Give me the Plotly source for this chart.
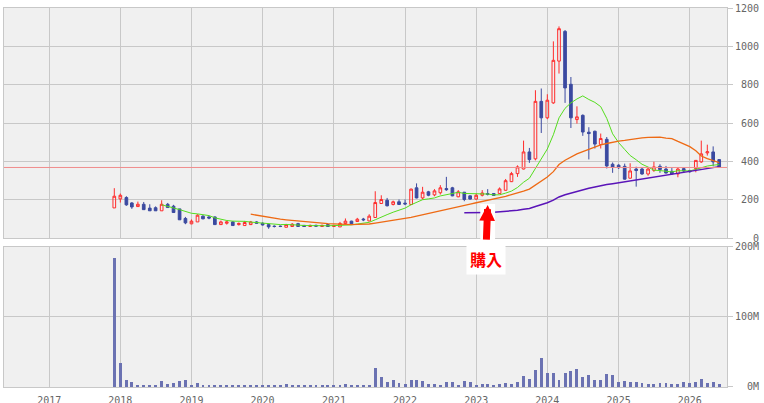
import pandas as pd
import plotly.graph_objects as go

# ---- data (monthly) ----
months = pd.date_range("2017-12-01", periods=103, freq="MS")

opens = [157, 204, 211, 183, 164, 176, 156, 158, 142, 176, 166, 152,
         102, 74, 84, 114, 110, 110, 70, 77, 84, 70, 65, 70,
         84, 77, 70, 62, 62, 56, 60, 75, 66, 60, 66, 60,
         70, 60, 58, 76, 88, 86, 99, 89, 107, 180, 197, 175,
         189, 182, 175, 262, 209, 241, 225, 236, 258, 262, 215, 239,
         220, 203, 223, 232, 232, 232, 249, 294, 336, 360, 449, 413,
         713, 627, 705, 923, 1078, 802, 618, 640, 552, 557, 488, 515,
         385, 380, 374, 312, 360, 360, 334, 353, 374, 360, 348, 334,
         362, 352, 362, 397, 444, 449, 409]
highs = [260, 232, 218, 187, 190, 188, 176, 165, 197, 183, 173, 152,
         110, 97, 124, 119, 114, 113, 91, 91, 89, 81, 89, 89,
         88, 82, 75, 66, 65, 74, 78, 79, 68, 70, 70, 70,
         72, 68, 84, 102, 90, 105, 105, 124, 244, 223, 209, 195,
         201, 201, 258, 285, 267, 246, 255, 276, 319, 267, 250, 239,
         222, 232, 250, 255, 234, 264, 308, 345, 379, 508, 470, 771,
         780, 750, 1026, 1104, 1085, 840, 687, 645, 578, 560, 545, 527,
         394, 385, 388, 390, 372, 366, 366, 398, 385, 376, 365, 369,
         369, 356, 405, 508, 487, 478, 410]
lows = [157, 185, 168, 152, 162, 148, 142, 142, 142, 157, 131, 95,
        72, 72, 84, 98, 98, 68, 68, 70, 65, 65, 65, 68,
        75, 65, 48, 55, 57, 56, 58, 58, 58, 58, 60, 58,
        58, 58, 58, 74, 72, 84, 88, 88, 105, 178, 165, 170,
        172, 172, 172, 207, 201, 218, 218, 227, 246, 218, 213, 192,
        200, 200, 217, 222, 220, 230, 247, 292, 319, 358, 392, 405,
        548, 620, 700, 858, 705, 574, 597, 533, 410, 467, 467, 363,
        340, 360, 305, 310, 268, 330, 325, 345, 340, 337, 334, 317,
        340, 340, 343, 392, 430, 374, 366]
closes = [218, 223, 173, 162, 176, 148, 142, 142, 176, 159, 133, 95,
          79, 88, 119, 100, 104, 70, 84, 84, 65, 76, 81, 84,
          77, 68, 58, 60, 60, 70, 72, 60, 60, 66, 62, 66,
          60, 66, 76, 88, 74, 98, 95, 114, 185, 201, 168, 189,
          175, 178, 255, 209, 239, 223, 246, 262, 252, 220, 241, 201,
          203, 223, 235, 228, 222, 256, 299, 336, 371, 449, 409, 713,
          627, 719, 927, 1092, 783, 627, 632, 553, 545, 490, 519, 376,
          368, 367, 307, 350, 352, 334, 360, 371, 357, 339, 334, 360,
          350, 346, 405, 439, 450, 397, 368]
volumes_m = [184, 34, 9.7, 6.8, 2.5, 2.5, 2.5, 2.5, 8.2, 3.9, 5.3, 8.2,
             9.7, 2.5, 5.3, 2.5, 1.5, 2.5, 2.5, 1.5, 2.5, 1.5, 1.5, 2.5,
             2.5, 2.5, 2.5, 2.5, 1.5, 3.9, 2.5, 1.5, 1.5, 1.5, 1.5, 1.5,
             2.5, 1.5, 2.5, 3.9, 1.5, 2.5, 1.5, 2.5, 27, 14.4, 7.2, 10,
             5.3, 3.9, 10, 10, 8.2, 3.9, 3.9, 2.5, 6.8, 6.8, 2.5, 8.2,
             6.8, 2.5, 3.9, 3.9, 2.5, 3.9, 5.3, 3.9, 6.8, 15.4, 11, 24,
             41, 20, 20, 10, 20, 23, 25.5, 14, 17, 9.7, 9.7, 18.4,
             17, 6.8, 8.2, 6.8, 6.8, 5.3, 3.9, 3.9, 5.3, 5.3, 3.9, 3.9,
             6.8, 5.3, 6.8, 11, 5.3, 6.8, 3.9]

price_ticks = [0, 200, 400, 600, 800, 1000, 1200]
volume_ticks = [0, 100e6, 200e6]
volume_tick_labels = ["0M", "100M", "200M"]
year_tick0 = "2017-01-01"
purchase_date = "2023-03-01"
purchase_label = "購入"
ma_windows = [9, 24, 60]

# ---- derived ----
close_s = pd.Series(closes)
ma_short = close_s.rolling(ma_windows[0]).mean()
ma_mid = close_s.rolling(ma_windows[1]).mean()
ma_long = close_s.rolling(ma_windows[2]).mean()
volumes = [v * 1e6 for v in volumes_m]

RED = "#ff2b2b"
BLUE = "#3b4aa0"
GRID = "#c8c8c8"
BG = "#f0f0f0"
TICKFONT = dict(family="DejaVu Sans Mono", size=10, color="#666666")

def pad(s):
    return s.rjust(4).replace(" ", "\u00a0")

fig = go.Figure()
fig.add_trace(go.Candlestick(
    x=months, open=opens, high=highs, low=lows, close=closes,
    increasing=dict(line=dict(color=RED, width=1), fillcolor="rgba(0,0,0,0)"),
    decreasing=dict(line=dict(color=BLUE, width=1), fillcolor=BLUE),
    whiskerwidth=0, showlegend=False, hoverinfo="skip",
    xaxis="x", yaxis="y"))
fig.add_trace(go.Scatter(x=months, y=ma_short, mode="lines",
                         line=dict(color="#55dd1e", width=1), showlegend=False,
                         xaxis="x", yaxis="y"))
fig.add_trace(go.Scatter(x=months, y=ma_mid, mode="lines",
                         line=dict(color="#ee6a14", width=1.3), showlegend=False,
                         xaxis="x", yaxis="y"))
fig.add_trace(go.Scatter(x=months, y=ma_long, mode="lines",
                         line=dict(color="#5a14b8", width=1.5), showlegend=False,
                         xaxis="x", yaxis="y"))
fig.add_trace(go.Bar(x=months, y=volumes, marker=dict(color="#6b72b2", line=dict(width=0)),
                     width=15 * 86400000, showlegend=False, xaxis="x2", yaxis="y2"))

# current price line
fig.add_shape(type="line", xref="paper", x0=0, x1=1, yref="y",
              y0=closes[-1], y1=closes[-1], line=dict(color="#f08c8c", width=1), layer="above")

# white backdrop behind the purchase arrow
pd_ts = pd.Timestamp(purchase_date)
fig.add_shape(type="rect", xref="x", yref="paper",
              x0=pd_ts - pd.Timedelta(days=38), x1=pd_ts + pd.Timedelta(days=38),
              y0=0.375, y1=0.483, fillcolor="white", line=dict(width=0), layer="above")

fig.add_annotation(x=purchase_date, y=172, xref="x", yref="y",
                   text="<b>" + purchase_label + "</b>", showarrow=True,
                   ax=-2, ay=54, arrowcolor="#ff0000", arrowwidth=7, arrowsize=0.45,
                   arrowhead=2, standoff=0, startstandoff=4,
                   font=dict(family="Noto Sans CJK JP", size=16, color="#ff0000"),
                   bgcolor="white", borderpad=3)

xcommon = dict(type="date", range=["2016-05-14", "2026-07-11"], dtick="M12", tick0=year_tick0,
               showgrid=True, gridcolor=GRID, gridwidth=1, showline=True, linecolor=GRID,
               mirror=True, zeroline=False, fixedrange=True, automargin=False)

fig.update_layout(
    width=764, height=403,
    margin=dict(l=4, r=37, t=8, b=16, autoexpand=False),
    paper_bgcolor="white", plot_bgcolor=BG,
    showlegend=False,
    xaxis=dict(**xcommon, anchor="y", showticklabels=False, rangeslider=dict(visible=False)),
    xaxis2=dict(**xcommon, anchor="y2", matches="x", tickformat="%Y", tickfont=TICKFONT,
                ticks="", ticklabelstandoff=4),
    yaxis=dict(domain=[0.3931, 1], range=[0, 1200], side="right", anchor="x",
               tickvals=price_ticks, ticktext=[pad(str(v)) for v in price_ticks],
               tickfont=TICKFONT, ticks="outside", ticklen=5, tickcolor=GRID,
               showgrid=True, gridcolor=GRID, showline=True, linecolor=GRID, mirror=True,
               zeroline=False, automargin=False),
    yaxis2=dict(domain=[0, 0.3694], range=[0, 200e6], side="right", anchor="x2",
                tickvals=volume_ticks, ticktext=[pad(s) for s in volume_tick_labels],
                tickfont=TICKFONT, ticks="outside", ticklen=5, tickcolor=GRID,
                showgrid=True, gridcolor=GRID, showline=True, linecolor=GRID, mirror=True,
                zeroline=False, automargin=False),
    bargap=0,
)

fig.write_html("out.html")
